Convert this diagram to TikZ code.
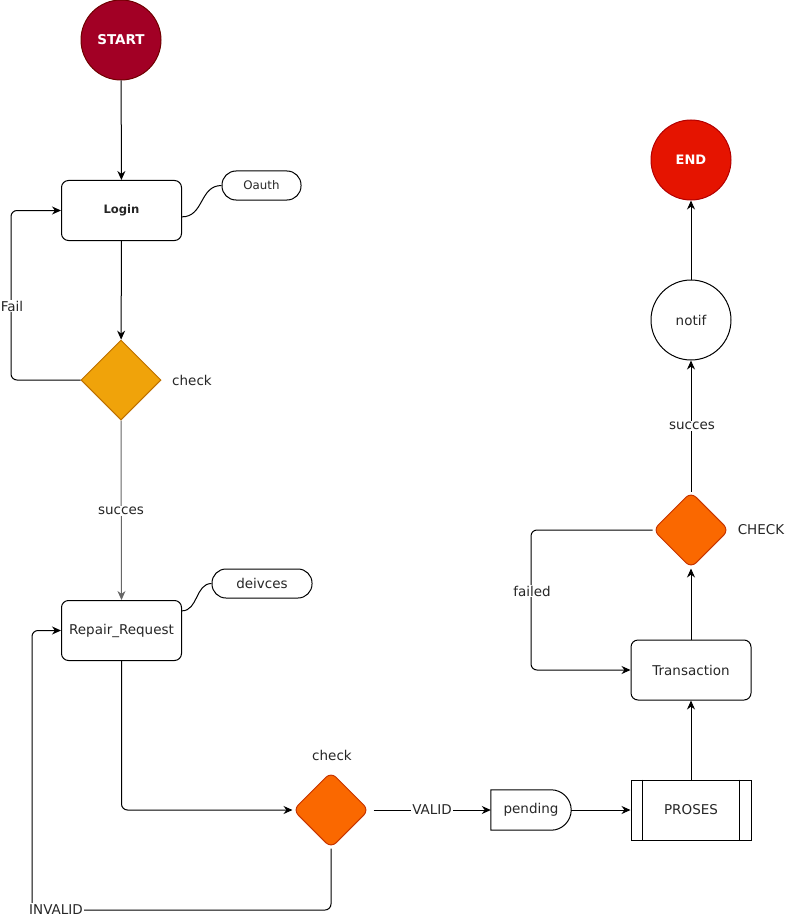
\documentclass[tikz,border=0pt]{standalone}
\usepackage{fontspec}
\setmainfont{DejaVu Sans}
\usetikzlibrary{shapes.geometric,arrows.meta,calc}
\definecolor{startfill}{HTML}{A20025}
\definecolor{startdraw}{HTML}{6F0000}
\definecolor{endfill}{HTML}{E51400}
\definecolor{enddraw}{HTML}{B20000}
\definecolor{ambfill}{HTML}{F0A30A}
\definecolor{ambdraw}{HTML}{BD7000}
\definecolor{orfill}{HTML}{FA6800}
\definecolor{ordraw}{HTML}{C73500}
\definecolor{txt}{HTML}{262626}
\tikzset{
  every node/.style={font=\fontsize{13.5}{16}\selectfont, text=txt},
  term/.style={circle, minimum size=80pt, inner sep=0pt, line width=1pt, text=white, font=\fontsize{13.5}{16}\selectfont\bfseries},
  procbox/.style={rectangle, rounded corners=7pt, draw=black, line width=1pt, minimum width=120pt, minimum height=60pt, inner sep=0pt},
  pill/.style={rectangle, rounded corners=14pt, draw=black, line width=1pt, minimum height=29pt, inner sep=0pt},
  decision/.style={diamond, aspect=1, minimum size=80pt, inner sep=0pt, line width=1pt},
  flow/.style={draw=black, line width=1pt, rounded corners=6pt, -{Stealth[length=9pt,width=8pt]}},
  plain/.style={draw=black, line width=1pt},
  lbl/.style={fill=white, inner sep=1pt},
}
\begin{document}
\begin{tikzpicture}[x=1pt, y=-1pt]
\useasboundingbox (0,0) rectangle (792,920);

% nodes
\node[term, fill=startfill, draw=startdraw] (start) at (121,40) {START};
\node[procbox, font=\fontsize{11.6}{14}\selectfont\bfseries] (login) at (121.5,210.5) {Login};
\node[pill, minimum width=79pt, font=\fontsize{11.8}{14}\selectfont] (oauth) at (261.5,185.5) {Oauth};
\node[decision, fill=ambfill, draw=ambdraw] (d1) at (121,380) {};
\node (d1lbl) at (192,380) {check};

\node[procbox] (repair) at (121.5,630.5) {Repair\_Request};
\node[pill, minimum width=100pt] (dev) at (262,583.5) {deivces};

\node[decision, fill=orfill, draw=ordraw, rounded corners=7pt, minimum size=76pt] (d2) at (331,810) {};
\node (d2lbl) at (332,755) {check};

\node[rectangle, minimum width=80pt, minimum height=40pt, inner sep=0pt] (pend) at (531,810) {pending};
\draw[plain] (pend.north west) -- ($(pend.north east)+(-20,0)$)
  .. controls +(11,0) and +(0,-11) .. (pend.east)
  .. controls +(0,11) and +(11,0) .. ($(pend.south east)+(-20,0)$)
  -- (pend.south west) -- cycle;

\node[rectangle, draw=black, line width=1pt, minimum width=120pt, minimum height=60pt, inner sep=0pt] (proses) at (691,810) {PROSES};
\draw[plain] ([xshift=12pt]proses.north west) -- ([xshift=12pt]proses.south west);
\draw[plain] ([xshift=-12pt]proses.north east) -- ([xshift=-12pt]proses.south east);

\node[procbox] (trans) at (691,670) {Transaction};
\node[decision, fill=orfill, draw=ordraw, rounded corners=7pt, minimum size=76pt] (d3) at (691,530) {};
\node (d3lbl) at (761,530) {CHECK};

\node[circle, draw=black, line width=1pt, minimum size=80pt, inner sep=0pt] (notif) at (691,320) {notif};
\node[term, fill=endfill, draw=enddraw, font=\fontsize{13}{15}\selectfont\bfseries] (end) at (691,160) {END};

% helper coordinates
\coordinate (failc) at (11,380);
\coordinate (invc) at (32,910);
\coordinate (fldc) at (531,530);

% connectors
\draw[flow] (start) -- (login);
\draw[plain] (login.-6.6) .. controls +(22,0) and +(-22,0) .. (oauth.west);
\draw[flow] (login) -- (d1);
\draw[flow] (d1.west) -- (failc) |- (login.west);
\node[lbl] (faillbl) at (12,306) {Fail};

\draw[flow, draw=gray!80!black] (d1.south) -- (repair.north);
\node[lbl] (suc1) at (121,511) {succes};

\draw[plain] (repair.18.3) .. controls +(16,0) and +(-16,0) .. (dev.west);
\draw[flow] (repair.south) |- (d2.west);
\draw[flow] (d2.south) |- (invc) |- (repair.west);
\node[lbl, inner ysep=2pt] (invlbl) at (56,910) {INVALID};

\draw[flow] ([xshift=4pt]d2.east) -- (pend.west);
\node[lbl] (validlbl) at (432,810) {VALID};
\draw[flow] (pend.east) -- (proses.west);
\draw[flow] (proses.north) -- (trans.south);
\draw[flow] (trans.north) -- (d3.south);
\draw[flow] (d3.west) -- (fldc) |- (trans.west);
\node[lbl] (fldlbl) at (532,591) {failed};
\draw[flow] (d3.north) -- (notif.south);
\node[lbl] (suc2) at (692,426) {succes};
\draw[flow] (notif.north) -- (end.south);
\end{tikzpicture}
\end{document}
